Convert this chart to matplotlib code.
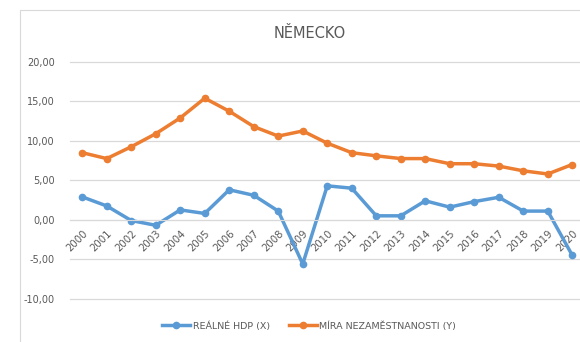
import matplotlib.pyplot as plt
from matplotlib.patches import Rectangle
import numpy as np

years = [str(y) for y in range(2000, 2021)]
hdp = [2.9, 1.75, -0.1, -0.7, 1.25, 0.8, 3.8, 3.1, 1.1, -5.6, 4.3,
       4.0, 0.5, 0.5, 2.4, 1.6, 2.3, 2.85, 1.1, 1.1, -4.5]
nezam = [8.5, 7.75, 9.25, 10.9, 12.9, 15.4, 13.75, 11.8, 10.6, 11.25, 9.7,
         8.5, 8.1, 7.75, 7.75, 7.1, 7.1, 6.8, 6.2, 5.8, 7.0]
yticks = [-10, -5, 0, 5, 10, 15, 20]

blue = '#5B9BD5'
orange = '#ED7D31'
grey = '#595959'
gridc = '#D9D9D9'

W, H = 580, 342
fig = plt.figure(figsize=(W / 100, H / 100), dpi=100)

# chart area border
fig.patches.append(Rectangle((20 / W, -0.1), 1.2, 1.1 - 10 / H, transform=fig.transFigure,
                             fill=False, edgecolor=gridc, linewidth=0.8))

ax = fig.add_axes([70 / W, 1 - 299.5 / H, 514.5 / W, 238 / H])
x = np.arange(len(years))

ax.plot(x, hdp, color=blue, lw=2.5, marker='o', ms=4.5, label='REÁLNÉ HDP (X)',
        solid_joinstyle='round')
ax.plot(x, nezam, color=orange, lw=2.5, marker='o', ms=4.5, label='MÍRA NEZAMĚSTNANOSTI (Y)',
        solid_joinstyle='round')

ax.set_xlim(-0.5, len(years) - 0.5)
ax.set_ylim(-10.1, 20.05)
ax.set_yticks(yticks)
ax.set_yticklabels([f'{v:.2f}'.replace('.', ',') for v in yticks], color=grey, fontsize=7)
ax.yaxis.grid(True, color=gridc, lw=0.9)
for gl in ax.get_ygridlines():
    gl.set_clip_on(False)
ax.set_axisbelow(True)
ax.tick_params(axis='y', length=0, pad=11)

for s in ['top', 'right', 'left']:
    ax.spines[s].set_visible(False)
ax.spines['bottom'].set_position(('data', 0))
ax.spines['bottom'].set_color(gridc)
ax.set_xticks(x)
ax.set_xticklabels(years, rotation=45, ha='right', va='top', rotation_mode='anchor',
                   color=grey, fontsize=7.3)
ax.tick_params(axis='x', length=0, pad=6)

fig.text(310 / W, 1 - 33 / H, 'NĚMECKO', ha='center', va='center', fontsize=10.5, color=grey)

fig.legend(loc='center', bbox_to_anchor=(309 / W, 1 - 326 / H), ncol=2, frameon=False,
           fontsize=6.8, labelcolor=grey, handlelength=3.0, handletextpad=0.25,
           columnspacing=2.0, markerscale=1.0)

fig.savefig('out.png', dpi=100)
